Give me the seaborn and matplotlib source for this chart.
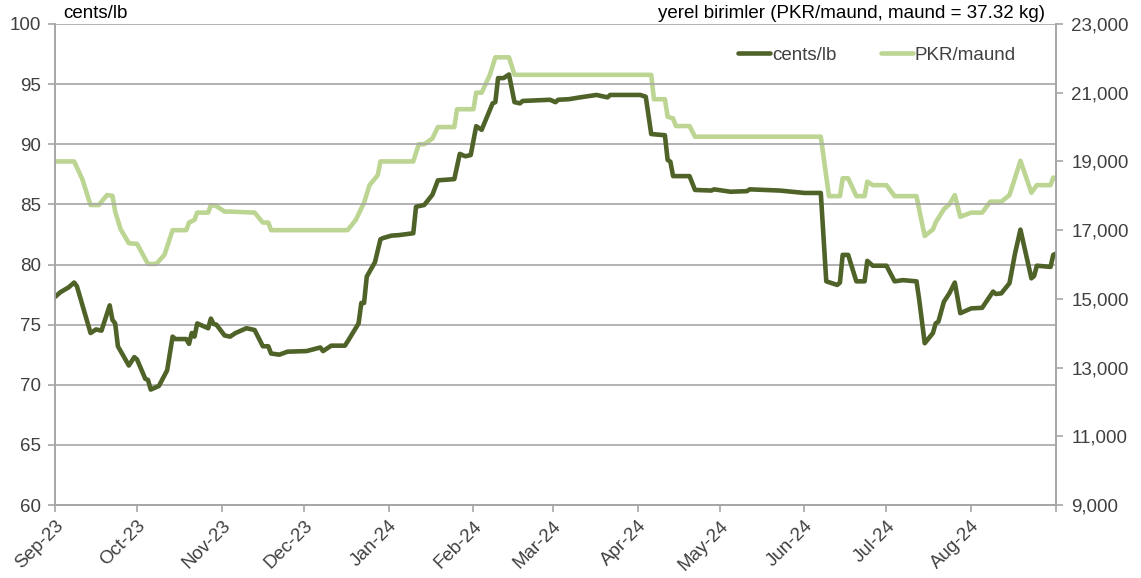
import pandas as pd
import numpy as np
import matplotlib
matplotlib.use('Agg')
import matplotlib.pyplot as plt
import matplotlib.dates as mdates
from matplotlib.ticker import FuncFormatter
import seaborn as sns

# ==========================================
# DATA
# ==========================================
cents_dates = [
    '2023-09-01', '2023-09-03', '2023-09-06', '2023-09-08', '2023-09-09', '2023-09-14',
    '2023-09-16', '2023-09-18', '2023-09-21', '2023-09-22', '2023-09-23', '2023-09-24',
    '2023-09-28', '2023-09-30', '2023-10-01', '2023-10-04', '2023-10-05', '2023-10-06',
    '2023-10-09', '2023-10-12', '2023-10-14', '2023-10-15', '2023-10-19', '2023-10-20',
    '2023-10-21', '2023-10-22', '2023-10-23', '2023-10-27', '2023-10-28', '2023-10-29',
    '2023-10-30', '2023-11-02', '2023-11-04', '2023-11-06', '2023-11-10', '2023-11-13',
    '2023-11-16', '2023-11-18', '2023-11-19', '2023-11-22', '2023-11-25', '2023-12-02',
    '2023-12-07', '2023-12-08', '2023-12-11', '2023-12-16', '2023-12-17', '2023-12-21',
    '2023-12-22', '2023-12-23', '2023-12-24', '2023-12-27', '2023-12-29', '2023-12-30',
    '2024-01-02', '2024-01-05', '2024-01-10', '2024-01-11', '2024-01-14', '2024-01-17',
    '2024-01-19', '2024-01-25', '2024-01-27', '2024-01-29', '2024-01-31', '2024-02-02',
    '2024-02-04', '2024-02-08', '2024-02-09', '2024-02-10', '2024-02-12', '2024-02-14',
    '2024-02-16', '2024-02-18', '2024-02-19', '2024-02-29', '2024-03-02', '2024-03-03',
    '2024-03-07', '2024-03-11', '2024-03-17', '2024-03-21', '2024-03-22', '2024-04-02',
    '2024-04-04', '2024-04-06', '2024-04-11', '2024-04-12', '2024-04-13', '2024-04-14',
    '2024-04-20', '2024-04-22', '2024-04-28', '2024-04-29', '2024-05-05', '2024-05-11',
    '2024-05-12', '2024-05-23', '2024-06-01', '2024-06-07', '2024-06-09', '2024-06-13',
    '2024-06-14', '2024-06-15', '2024-06-17', '2024-06-20', '2024-06-23', '2024-06-24',
    '2024-06-26', '2024-07-01', '2024-07-04', '2024-07-07', '2024-07-12', '2024-07-13',
    '2024-07-15', '2024-07-18', '2024-07-19', '2024-07-20', '2024-07-22', '2024-07-24',
    '2024-07-26', '2024-07-28', '2024-08-01', '2024-08-05', '2024-08-09', '2024-08-10',
    '2024-08-12', '2024-08-15', '2024-08-17', '2024-08-19', '2024-08-23', '2024-08-24',
    '2024-08-25', '2024-08-30', '2024-08-31', '2024-09-01',
]
cents_lb = [
    77.3, 77.7, 78.1, 78.5, 78.2, 74.3,
    74.6, 74.5, 76.6, 75.4, 75.1, 73.2,
    71.6, 72.3, 72.1, 70.5, 70.4, 69.6,
    69.9, 71.2, 74.0, 73.8, 73.8, 73.4,
    74.3, 74.0, 75.1, 74.7, 75.5, 75.05,
    75.0, 74.1, 74.0, 74.3, 74.7, 74.55,
    73.2, 73.2, 72.6, 72.5, 72.75, 72.8,
    73.1, 72.8, 73.25, 73.25, 73.6, 75.1,
    76.8, 76.8, 79.0, 80.2, 82.1, 82.2,
    82.4, 82.45, 82.6, 84.8, 84.95, 85.8,
    87.0, 87.1, 89.2, 89.0, 89.1, 91.5,
    91.2, 93.4, 93.5, 95.5, 95.5, 95.8,
    93.5, 93.4, 93.6, 93.7, 93.5, 93.7,
    93.75, 93.9, 94.1, 93.9, 94.1, 94.1,
    93.95, 90.85, 90.75, 88.7, 88.55, 87.35,
    87.35, 86.2, 86.15, 86.25, 86.05, 86.1,
    86.25, 86.15, 85.95, 85.95, 78.6, 78.3,
    78.5, 80.8, 80.8, 78.6, 78.6, 80.3,
    79.9, 79.9, 78.6, 78.7, 78.6, 77.05,
    73.45, 74.3, 75.1, 75.25, 76.9, 77.6,
    78.5, 75.95, 76.35, 76.4, 77.75, 77.55,
    77.6, 78.45, 80.9, 82.9, 78.85, 79.05,
    79.9, 79.8, 80.8, 80.9,
]

pkr_dates = [
    '2023-09-01', '2023-09-08', '2023-09-11', '2023-09-14', '2023-09-17', '2023-09-20',
    '2023-09-22', '2023-09-23', '2023-09-25', '2023-09-28', '2023-10-01', '2023-10-05',
    '2023-10-08', '2023-10-11', '2023-10-14', '2023-10-19', '2023-10-20', '2023-10-22',
    '2023-10-23', '2023-10-27', '2023-10-28', '2023-10-30', '2023-11-02', '2023-11-04',
    '2023-11-13', '2023-11-16', '2023-11-18', '2023-11-19', '2023-12-17', '2023-12-20',
    '2023-12-23', '2023-12-25', '2023-12-28', '2023-12-29', '2024-01-10', '2024-01-12',
    '2024-01-14', '2024-01-17', '2024-01-19', '2024-01-25', '2024-01-26', '2024-02-01',
    '2024-02-02', '2024-02-04', '2024-02-07', '2024-02-09', '2024-02-14', '2024-02-16',
    '2024-04-06', '2024-04-07', '2024-04-11', '2024-04-12', '2024-04-14', '2024-04-15',
    '2024-04-20', '2024-04-22', '2024-06-07', '2024-06-10', '2024-06-14', '2024-06-15',
    '2024-06-17', '2024-06-20', '2024-06-23', '2024-06-24', '2024-06-26', '2024-07-01',
    '2024-07-04', '2024-07-12', '2024-07-13', '2024-07-15', '2024-07-18', '2024-07-19',
    '2024-07-22', '2024-07-24', '2024-07-26', '2024-07-28', '2024-08-01', '2024-08-05',
    '2024-08-08', '2024-08-12', '2024-08-15', '2024-08-19', '2024-08-23', '2024-08-25',
    '2024-08-30', '2024-08-31', '2024-09-01',
]
pkr_maund = [
    19000, 19000, 18480, 17730, 17730, 18020,
    18000, 17540, 17025, 16620, 16600, 16015,
    16015, 16280, 17000, 17000, 17220, 17300,
    17510, 17510, 17730, 17700, 17540, 17540,
    17510, 17220, 17220, 17000, 17000, 17300,
    17800, 18310, 18600, 19000, 19000, 19500,
    19500, 19670, 20000, 20000, 20520, 20520,
    21000, 21000, 21520, 22030, 22030, 21520,
    21520, 20810, 20810, 20300, 20250, 20030,
    20030, 19720, 19720, 17990, 17990, 18510,
    18510, 17990, 17990, 18410, 18310, 18310,
    17990, 17990, 17590, 16830, 17020, 17220,
    17610, 17750, 18020, 17390, 17510, 17510,
    17830, 17830, 18020, 19020, 18090, 18310,
    18310, 18530, 18500,
]

month_ticks = pd.date_range('2023-09-01', '2024-09-01', freq='MS')
month_labels = [d.strftime('%b-%y') for d in month_ticks[:-1]] + ['']
left_ticks = [60, 65, 70, 75, 80, 85, 90, 95, 100]
right_ticks = [9000, 11000, 13000, 15000, 17000, 19000, 21000, 23000]

DARK = '#4F6228'
LIGHT = '#BCD592'
GRID = '#A6A6A6'
TEXT = '#404040'
FS = 13.5

df_c = pd.DataFrame({'date': pd.to_datetime(cents_dates), 'cents/lb': cents_lb})
df_p = pd.DataFrame({'date': pd.to_datetime(pkr_dates), 'PKR/maund': pkr_maund})

# ==========================================
# PLOT
# ==========================================
sns.set_style('white')
plt.rcParams['font.family'] = ['Liberation Sans', 'DejaVu Sans']

fig = plt.figure(figsize=(11.41, 5.78), dpi=100)
ax = fig.add_axes([55 / 1141, 73 / 578, 1001 / 1141, 481 / 578])
ax2 = ax.twinx()

sns.lineplot(data=df_p, x='date', y='PKR/maund', ax=ax2, color=LIGHT, lw=3.3, label='PKR/maund')
sns.lineplot(data=df_c, x='date', y='cents/lb', ax=ax, color=DARK, lw=3.3, label='cents/lb')

ax.set_zorder(ax2.get_zorder() + 1)
ax.patch.set_visible(False)

ax.set_ylim(60, 100)
ax.set_yticks(left_ticks)
ax2.set_ylim(9000, 23000)
ax2.set_yticks(right_ticks)
ax2.yaxis.set_major_formatter(FuncFormatter(lambda v, p: f'{int(v):,}'))

ax.set_xlim(month_ticks[0], month_ticks[-1])
ax.set_xticks(month_ticks)
ax.set_xticklabels(month_labels)

ax.grid(axis='y', color=GRID, lw=1.2)
ax.grid(axis='x', visible=False)
ax2.grid(False)

for a in (ax, ax2):
    for side, sp in a.spines.items():
        sp.set_color(GRID)
        sp.set_linewidth(1.2)
    a.spines['top'].set_visible(False)
    a.set_xlabel('')
    a.set_ylabel('')

ax.tick_params(axis='y', which='major', direction='out', length=5, width=1.2,
               color=GRID, labelsize=FS, labelcolor=TEXT, pad=5, left=True)
ax2.tick_params(axis='y', which='major', direction='out', length=5, width=1.2,
                color=GRID, labelsize=FS, labelcolor=TEXT, pad=6, right=True)
ax.tick_params(axis='x', which='major', direction='out', length=5, width=1.2,
               color=GRID, labelsize=FS, labelcolor=TEXT, pad=4, bottom=True)
for lbl in ax.get_xticklabels():
    lbl.set_rotation(45)
    lbl.set_ha('right')
    lbl.set_rotation_mode('anchor')

# axis unit labels
fig.text(63 / 1141, 1 - 13 / 578, 'cents/lb', ha='left', va='center', fontsize=FS, color='black')
fig.text(1045 / 1141, 1 - 13 / 578, 'yerel birimler (PKR/maund, maund = 37.32 kg)',
         ha='right', va='center', fontsize=FS, color='black')

# combined legend
h1, l1 = ax.get_legend_handles_labels()
h2, l2 = ax2.get_legend_handles_labels()
if ax2.get_legend() is not None:
    ax2.get_legend().remove()
ax.legend(h1 + h2, l1 + l2, loc='center right', bbox_to_anchor=(0.977, 0.9356), ncol=2,
          frameon=False, fontsize=FS, handlelength=1.7, columnspacing=2.4,
          handletextpad=0.1, labelcolor=TEXT)

fig.savefig('out.png', dpi=100)
plt.close(fig)
